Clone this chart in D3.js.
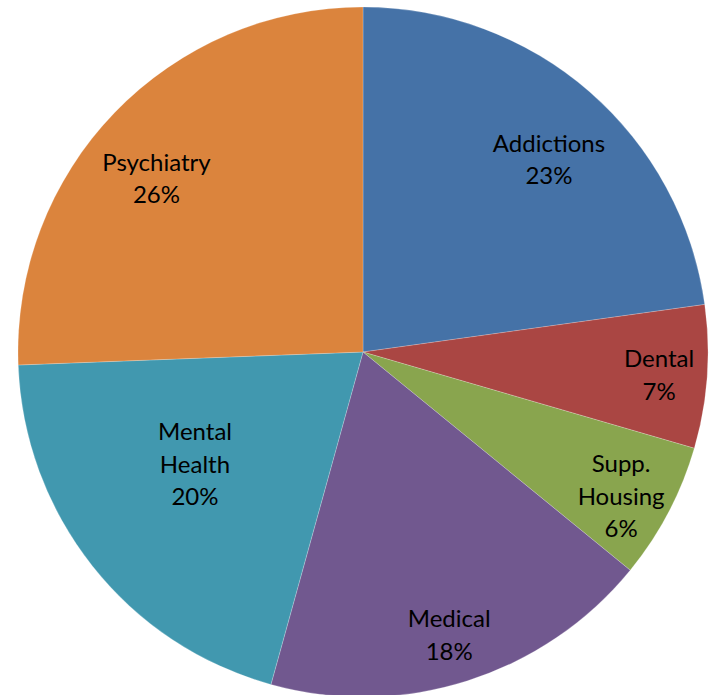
<!DOCTYPE html>
<html><head><meta charset="utf-8">
<script src="https://cdn.jsdelivr.net/npm/d3@7"></script>
<style>html,body{margin:0;padding:0;background:#fff;}svg{display:block;}</style>
</head><body>
<svg id="chart" width="709" height="695"></svg>
<script>
const categories = ["Addictions", "Dental", "Supp. Housing", "Medical", "Mental Health", "Psychiatry"];
const values = [22.8, 6.7, 6.4, 18.4, 20.1, 25.6];
const colors = ["#4572A7", "#AA4643", "#89A54E", "#71588F", "#4198AF", "#DB843D"];
const labelLines = [["Addictions"], ["Dental"], ["Supp.", "Housing"], ["Medical"], ["Mental", "Health"], ["Psychiatry"]];

const svg = d3.select("#chart");
const cx = 363, cy = 352, R = 345;
const g = svg.append("g").attr("transform", `translate(${cx},${cy})`);
const data = categories.map((c, i) => ({name: c, value: values[i], color: colors[i], lines: labelLines[i]}));
const pie = d3.pie().value(d => d.value).sort(null);
const arc = d3.arc().innerRadius(0).outerRadius(R);
const arcs = pie(data);
g.selectAll("path").data(arcs).join("path")
  .attr("d", arc).attr("fill", d => d.data.color)
  .attr("stroke", "rgba(255,255,255,0.35)").attr("stroke-width", 0.6);

// label placement: fraction along the slice's angle span, and fraction of radius
const labelPos = {
  "Addictions":    [0.537, 0.775],
  "Dental":        [0.519, 0.861],
  "Supp. Housing": [0.569, 0.858],
  "Medical":       [0.511, 0.859],
  "Mental Health": [0.561, 0.587],
  "Psychiatry":    [0.457, 0.781]
};
const lineH = 32.5;
arcs.forEach(a => {
  const [af, rf] = labelPos[a.data.name];
  const ang = a.startAngle + (a.endAngle - a.startAngle) * af;
  const r = R * rf;
  const x = r * Math.sin(ang), y = -r * Math.cos(ang);
  const lines = a.data.lines.concat([Math.round(a.data.value) + "%"]);
  const t = g.append("text").attr("text-anchor", "middle")
    .attr("font-family", "Lato, 'Open Sans', sans-serif").attr("font-size", 24).attr("fill", "#000");
  lines.forEach((l, i) => {
    t.append("tspan").attr("x", x).attr("y", y + (i - (lines.length - 1) / 2) * lineH).attr("dy", "0.33em").text(l);
  });
});
</script>
</body></html>
